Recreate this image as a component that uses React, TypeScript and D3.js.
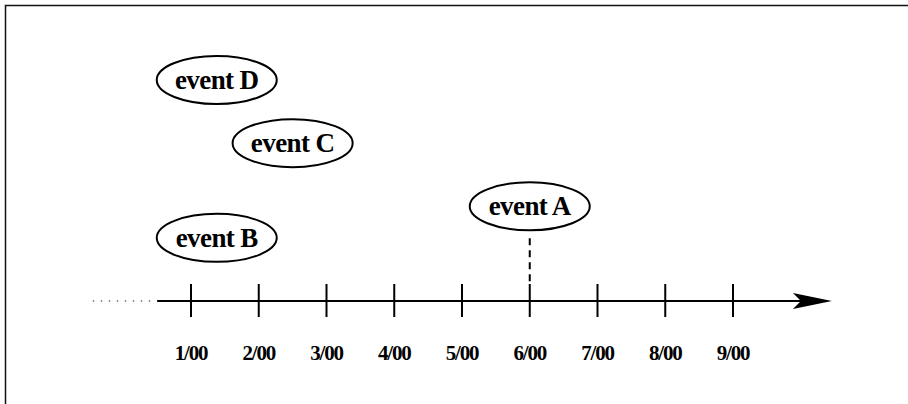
import * as d3 from "d3";
import React, { useEffect, useRef } from "react";

// tick positions along the time line (months of 2000)
const tickValues = [1, 2, 3, 4, 5, 6, 7, 8, 9];
const tickLabels = ["1/00", "2/00", "3/00", "4/00", "5/00", "6/00", "7/00", "8/00", "9/00"];

// events: name, position on the time line, height level above the line
const eventNames = ["event D", "event C", "event B", "event A"];
const eventTimes = [1.38, 2.5, 1.38, 6];
const eventLevels = [3.5, 2.5, 1, 1.5];
const eventAnchored = [false, false, false, true];

const width = 908;
const height = 404;

export default function App() {
  const svgRef = useRef<SVGSVGElement>(null);

  useEffect(() => {
    const svg = d3.select(svgRef.current);
    svg.selectAll("*").remove();

    const axisY = 301;
    const x = d3.scaleLinear().domain([1, 9]).range([191, 733]);
    const y = d3.scaleLinear().domain([0, 3.5]).range([axisY, 80]);
    const font = "'Liberation Serif', 'Times New Roman', serif";

    // frame (top and left edges only)
    svg
      .append("path")
      .attr("d", `M5.5,${height} L5.5,5.5 L${width},5.5`)
      .attr("fill", "none")
      .attr("stroke", "#111")
      .attr("stroke-width", 1.5);

    // dotted lead-in before the axis
    svg
      .append("line")
      .attr("x1", x(-0.45))
      .attr("x2", x(0.4))
      .attr("y1", axisY)
      .attr("y2", axisY)
      .attr("stroke", "#222")
      .attr("stroke-width", 1.2)
      .attr("stroke-dasharray", "1.5,6.5");

    // main axis line
    const tipX = x(10.46);
    svg
      .append("line")
      .attr("x1", x(0.5))
      .attr("x2", tipX - 30)
      .attr("y1", axisY)
      .attr("y2", axisY)
      .attr("stroke", "#000")
      .attr("stroke-width", 2.2);

    // arrow head
    svg
      .append("path")
      .attr(
        "d",
        `M${tipX},${axisY} L${tipX - 39},${axisY - 8} L${tipX - 31},${axisY} L${tipX - 39},${axisY + 8} Z`
      )
      .attr("fill", "#000");

    // ticks
    svg
      .selectAll("line.tick")
      .data(tickValues)
      .join("line")
      .attr("class", "tick")
      .attr("x1", (d) => x(d))
      .attr("x2", (d) => x(d))
      .attr("y1", axisY - 17)
      .attr("y2", axisY + 16)
      .attr("stroke", "#000")
      .attr("stroke-width", 2);

    // tick labels
    svg
      .selectAll("text.tick-label")
      .data(tickValues)
      .join("text")
      .attr("class", "tick-label")
      .attr("x", (d) => x(d))
      .attr("y", 360)
      .attr("text-anchor", "middle")
      .attr("font-family", font)
      .attr("font-weight", "bold")
      .attr("font-size", 21)
      .attr("letter-spacing", -1.2)
      .text((d, i) => tickLabels[i]);

    const events = eventNames.map((name, i) => ({
      name,
      t: eventTimes[i],
      level: eventLevels[i],
      anchored: eventAnchored[i],
    }));

    // dashed connector for anchored events
    svg
      .selectAll("line.connector")
      .data(events.filter((e) => e.anchored))
      .join("line")
      .attr("class", "connector")
      .attr("x1", (d) => x(d.t))
      .attr("x2", (d) => x(d.t))
      .attr("y1", (d) => y(d.level) + 32)
      .attr("y2", axisY - 17)
      .attr("stroke", "#000")
      .attr("stroke-width", 2)
      .attr("stroke-dasharray", "7,5");

    const groups = svg
      .selectAll("g.event")
      .data(events)
      .join("g")
      .attr("class", "event")
      .attr("transform", (d) => `translate(${x(d.t)},${y(d.level)})`);

    groups
      .append("ellipse")
      .attr("rx", 60)
      .attr("ry", 24)
      .attr("fill", "#fff")
      .attr("stroke", "#000")
      .attr("stroke-width", 2);

    groups
      .append("text")
      .attr("y", 9)
      .attr("text-anchor", "middle")
      .attr("font-family", font)
      .attr("font-weight", "bold")
      .attr("font-size", 27)
      .attr("letter-spacing", -0.6)
      .text((d) => d.name);
  }, []);

  return (
    <svg
      ref={svgRef}
      width={width}
      height={height}
      style={{ position: "absolute", left: 0, top: 0, display: "block", background: "#fff" }}
    />
  );
}
